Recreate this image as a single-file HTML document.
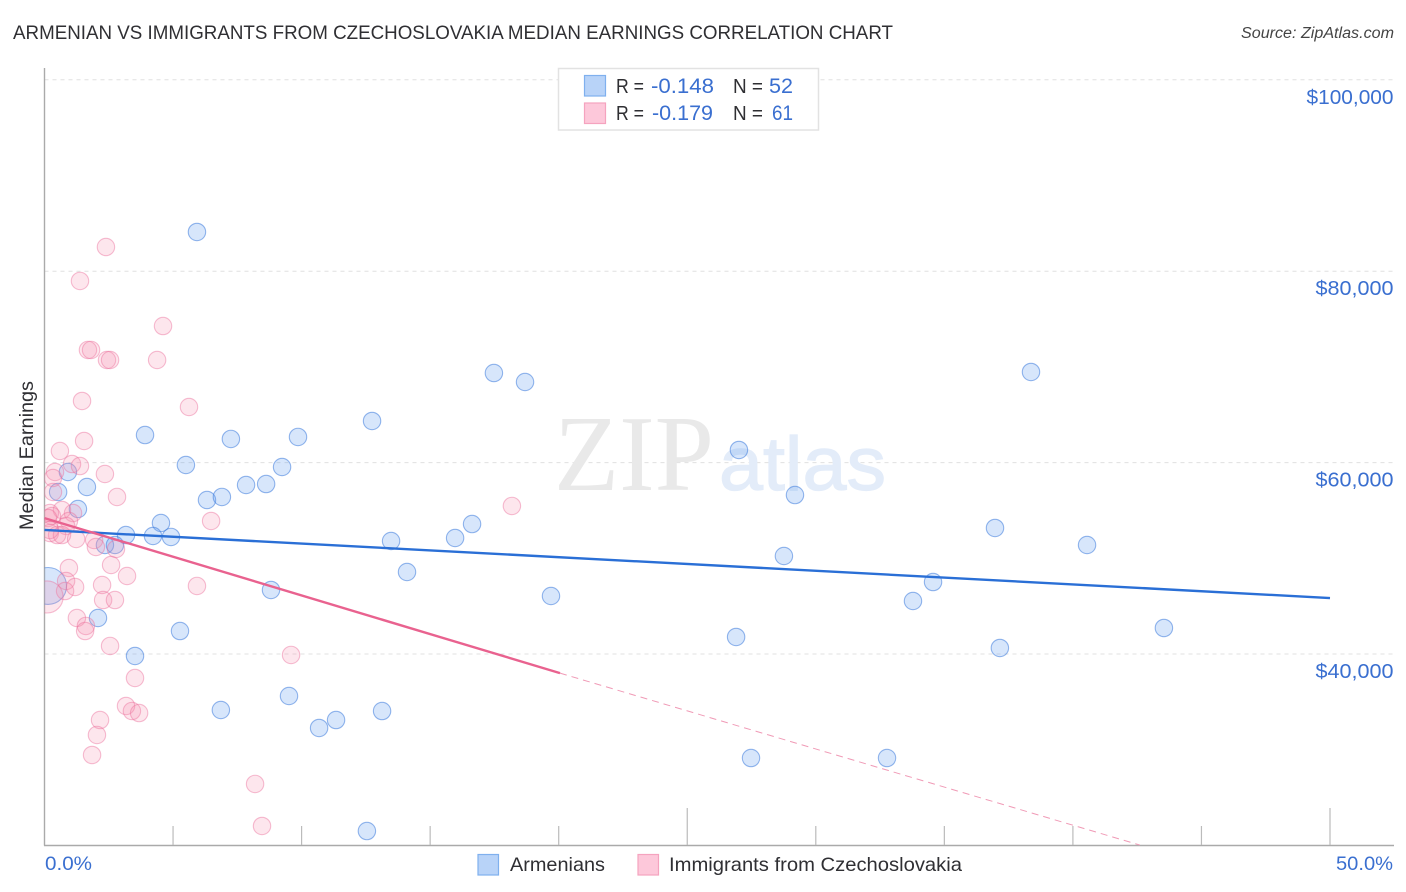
<!DOCTYPE html>
<html>
<head>
<meta charset="utf-8">
<title>Armenian vs Immigrants from Czechoslovakia Median Earnings Correlation Chart</title>
<style>
html,body{margin:0;padding:0;background:#fff;width:1406px;height:892px;overflow:hidden}
svg{display:block;font-family:"Liberation Sans",sans-serif}
</style>
</head>
<body>
<svg id="chart" xmlns="http://www.w3.org/2000/svg" width="1406" height="892" viewBox="0 0 1406 892">
  <rect x="0" y="0" width="1406" height="892" fill="#ffffff"/>
  <text x="13" y="39" font-size="19" fill="#2f2f33" textLength="880" lengthAdjust="spacingAndGlyphs">ARMENIAN VS IMMIGRANTS FROM CZECHOSLOVAKIA MEDIAN EARNINGS CORRELATION CHART</text>
  <text x="1241" y="38" font-size="15.5" font-style="italic" fill="#444" textLength="153" lengthAdjust="spacingAndGlyphs">Source: ZipAtlas.com</text>
  <g id="grid"></g>
  <g>
    <text x="554" y="490" font-family="'Liberation Serif',serif" font-size="108" fill="#e9e9e9" textLength="160" lengthAdjust="spacingAndGlyphs">ZIP</text>
    <text x="719" y="490" font-size="76" fill="#e3ecf9" stroke="#e3ecf9" stroke-width="1.2" textLength="167" lengthAdjust="spacingAndGlyphs">atlas</text>
  </g>
  <g id="axes"></g>
  <g id="ylabels"></g>
  <text transform="translate(33,530) rotate(-90)" font-size="19" fill="#2f2f33" textLength="149" lengthAdjust="spacingAndGlyphs">Median Earnings</text>
  <text x="45" y="870" font-size="19.5" fill="#3a6fd0" textLength="47" lengthAdjust="spacingAndGlyphs">0.0%</text>
  <text x="1336" y="870" font-size="19.5" fill="#3a6fd0" textLength="57" lengthAdjust="spacingAndGlyphs">50.0%</text>
  <defs><clipPath id="plot-clip"><rect x="44.5" y="60" width="1350" height="785"/></clipPath></defs>
  <g id="points-blue" clip-path="url(#plot-clip)"></g>
  <g id="points-pink" clip-path="url(#plot-clip)"></g>
  <g id="trends"></g>

  <g>
    <rect x="558.5" y="68.5" width="260" height="61.5" fill="#ffffff" stroke="#e2e2e2" stroke-width="1.5"/>
    <rect x="584.5" y="75.5" width="21" height="20.5" fill="#b8d3f8" stroke="#7fb0ee" stroke-width="1.2"/>
    <rect x="584.5" y="103" width="21" height="20.5" fill="#fdc8da" stroke="#f5a3bf" stroke-width="1.2"/>
    <text x="616" y="93" font-size="20" fill="#2f2f33" textLength="28" lengthAdjust="spacingAndGlyphs">R =</text>
    <text x="651" y="93" font-size="21" fill="#3a6fd0" textLength="63" lengthAdjust="spacingAndGlyphs">-0.148</text>
    <text x="733" y="93" font-size="20" fill="#2f2f33" textLength="30" lengthAdjust="spacingAndGlyphs">N =</text>
    <text x="769" y="93" font-size="21" fill="#3a6fd0" textLength="24" lengthAdjust="spacingAndGlyphs">52</text>
    <text x="616" y="120" font-size="20" fill="#2f2f33" textLength="28" lengthAdjust="spacingAndGlyphs">R =</text>
    <text x="652" y="120" font-size="21" fill="#3a6fd0" textLength="61" lengthAdjust="spacingAndGlyphs">-0.179</text>
    <text x="733" y="120" font-size="20" fill="#2f2f33" textLength="30" lengthAdjust="spacingAndGlyphs">N =</text>
    <text x="772" y="120" font-size="21" fill="#3a6fd0" textLength="21" lengthAdjust="spacingAndGlyphs">61</text>
  </g>

  <g>
    <rect x="478" y="854.5" width="20.5" height="20.5" fill="#b8d3f8" stroke="#7fb0ee" stroke-width="1.2"/>
    <text x="510" y="871" font-size="19.5" fill="#2f2f33" textLength="95" lengthAdjust="spacingAndGlyphs">Armenians</text>
    <rect x="638" y="854.5" width="20.5" height="20.5" fill="#fdc8da" stroke="#f5a3bf" stroke-width="1.2"/>
    <text x="669" y="871" font-size="19.5" fill="#2f2f33" textLength="293" lengthAdjust="spacingAndGlyphs">Immigrants from Czechoslovakia</text>
  </g>
</svg>
<script>
const yTickValues = [100, 80, 60, 40];
const yTickLabels = ["$100,000", "$80,000", "$60,000", "$40,000"];
const xTickValues = [0, 5, 10, 15, 20, 25, 30, 35, 40, 45, 50];
const xMajorTickValues = [0, 25, 50];

const armeniansX = [5.93,38.37,17.48,18.69,12.74,3.91,7.25,9.86,27.01,5.50,9.24,0.91,7.84,8.62,1.65,0.53,6.32,6.90,29.19,1.30,16.63,4.53,36.97,3.17,4.22,4.92,15.97,13.48,40.55,2.35,2.74,28.76,14.10,0.14,8.81,34.56,19.70,33.78,2.08,5.27,43.54,26.90,37.16,3.52,9.51,6.86,13.13,11.34,10.68,27.48,32.77,12.54];
const armeniansY = [84.10,69.47,69.36,68.42,64.35,62.88,62.47,62.68,61.32,59.75,59.54,59.02,57.66,57.76,57.45,56.93,56.09,56.41,56.61,55.15,53.58,53.69,53.17,52.43,52.33,52.23,52.12,51.81,51.39,51.39,51.39,50.24,48.57,47.11,46.69,47.52,46.06,45.54,43.76,42.40,42.72,41.78,40.63,39.79,35.61,34.15,34.04,33.10,32.27,29.13,29.13,21.50];
const armeniansWeight = {33: 4.5};

const immigrantsX = [2.39,1.38,4.61,1.69,1.81,4.38,2.43,2.55,1.46,5.62,1.54,0.60,1.07,1.38,2.35,0.41,0.33,0.33,2.82,18.18,6.48,1.11,0.68,0.21,0.29,0.95,0.84,0.14,0.21,0.49,0.68,1.23,1.93,2.00,2.78,2.59,3.21,0.95,0.84,2.24,0.80,1.19,5.93,2.28,2.74,0.10,1.26,1.61,1.58,2.55,9.59,3.52,3.17,3.40,3.68,2.16,2.04,1.85,8.19,8.46,0.21];
const immigrantsY = [82.53,78.98,74.27,71.77,71.77,70.72,70.72,70.72,66.44,65.81,62.26,61.21,59.85,59.64,58.81,59.02,58.39,56.93,56.41,55.47,53.90,54.73,55.05,54.73,54.42,53.90,53.38,54.21,52.64,52.43,52.43,52.02,51.91,51.18,50.97,49.30,48.15,48.99,47.63,47.21,46.58,47.00,47.11,45.64,45.64,45.96,43.76,42.93,42.40,40.84,39.90,37.49,34.57,34.04,33.83,33.10,31.54,29.45,26.42,22.03,52.96];
const immigrantsWeight = {45: 3.4};

const armeniansTrendX = [0, 50];
const armeniansTrendY = [52.96, 45.85];
const immigrantsTrendX = [0, 20.05];
const immigrantsTrendY = [54.2, 38.0];
const immigrantsProjectionX = [20.05, 42.6];
const immigrantsProjectionY = [38.0, 20.04];

const NS = "http://www.w3.org/2000/svg";
function xScale(v){ return 44.5 + v * 25.71; }
function yScale(v){ return 654 - (v - 40) * 9.57; }
function mk(tag, attrs, parent){
  const el = document.createElementNS(NS, tag);
  for (const k in attrs) el.setAttribute(k, attrs[k]);
  parent.appendChild(el);
  return el;
}

const grid = document.getElementById("grid");
const axes = document.getElementById("axes");
const ylabels = document.getElementById("ylabels");

yTickValues.forEach(function(v, i){
  const line = mk("line", {x1:44.5, x2:1394, y1:yScale(v), y2:yScale(v), stroke:"#e0e0e0", "stroke-width":1, "stroke-dasharray":"4 4"}, grid);
  
  
  const label = mk("text", {x:1393.5, y:yScale(v)+24, "text-anchor":"end", "font-size":20, fill:"#3a6fd0", textLength:15 + 9 * yTickLabels[i].length, lengthAdjust:"spacingAndGlyphs"}, ylabels);
  
  
  label.textContent = yTickLabels[i];
});

const yAxis = mk("line", {x1:44.5, x2:44.5, y1:68, y2:845.5, stroke:"#aaaaaa", "stroke-width":1.4}, axes);


const xAxis = mk("line", {x1:44, x2:1394, y1:845.5, y2:845.5, stroke:"#aaaaaa", "stroke-width":1.4}, axes);


xTickValues.forEach(function(v){
  if (v === 0) return;
  const top = xMajorTickValues.indexOf(v) >= 0 ? 808 : 826;
  const tick = mk("line", {x1:xScale(v), x2:xScale(v), y1:top, y2:845, stroke:"#bbbbbb", "stroke-width":1.2}, axes);
  
  
});

function drawPoints(groupId, xs, ys, weights, fill, stroke){
  const g = document.getElementById(groupId);
  xs.forEach(function(x, i){
    const w = weights[i] || 1;
    const c = mk("circle", {cx:xScale(x), cy:yScale(ys[i]), r:8.7*Math.sqrt(w), fill:fill, stroke:stroke, "stroke-width":1.1}, g);
    
    
  });
}
drawPoints("points-blue", armeniansX, armeniansY, armeniansWeight, "rgba(96,156,238,0.25)", "rgba(62,124,220,0.55)");
drawPoints("points-pink", immigrantsX, immigrantsY, immigrantsWeight, "rgba(246,140,175,0.22)", "rgba(236,110,155,0.45)");

const trends = document.getElementById("trends");
const t1 = mk("line", {x1:xScale(armeniansTrendX[0]), y1:yScale(armeniansTrendY[0]), x2:xScale(armeniansTrendX[1]), y2:yScale(armeniansTrendY[1]), stroke:"#2a6fd6", "stroke-width":2.4}, trends);


const t2 = mk("line", {x1:xScale(immigrantsTrendX[0]), y1:yScale(immigrantsTrendY[0]), x2:xScale(immigrantsTrendX[1]), y2:yScale(immigrantsTrendY[1]), stroke:"#e9628f", "stroke-width":2.4}, trends);


const t3 = mk("line", {x1:xScale(immigrantsProjectionX[0]), y1:yScale(immigrantsProjectionY[0]), x2:xScale(immigrantsProjectionX[1]), y2:yScale(immigrantsProjectionY[1]), stroke:"#f09ab6", "stroke-width":1, "stroke-dasharray":"7 5"}, trends);


</script>
</body>
</html>
